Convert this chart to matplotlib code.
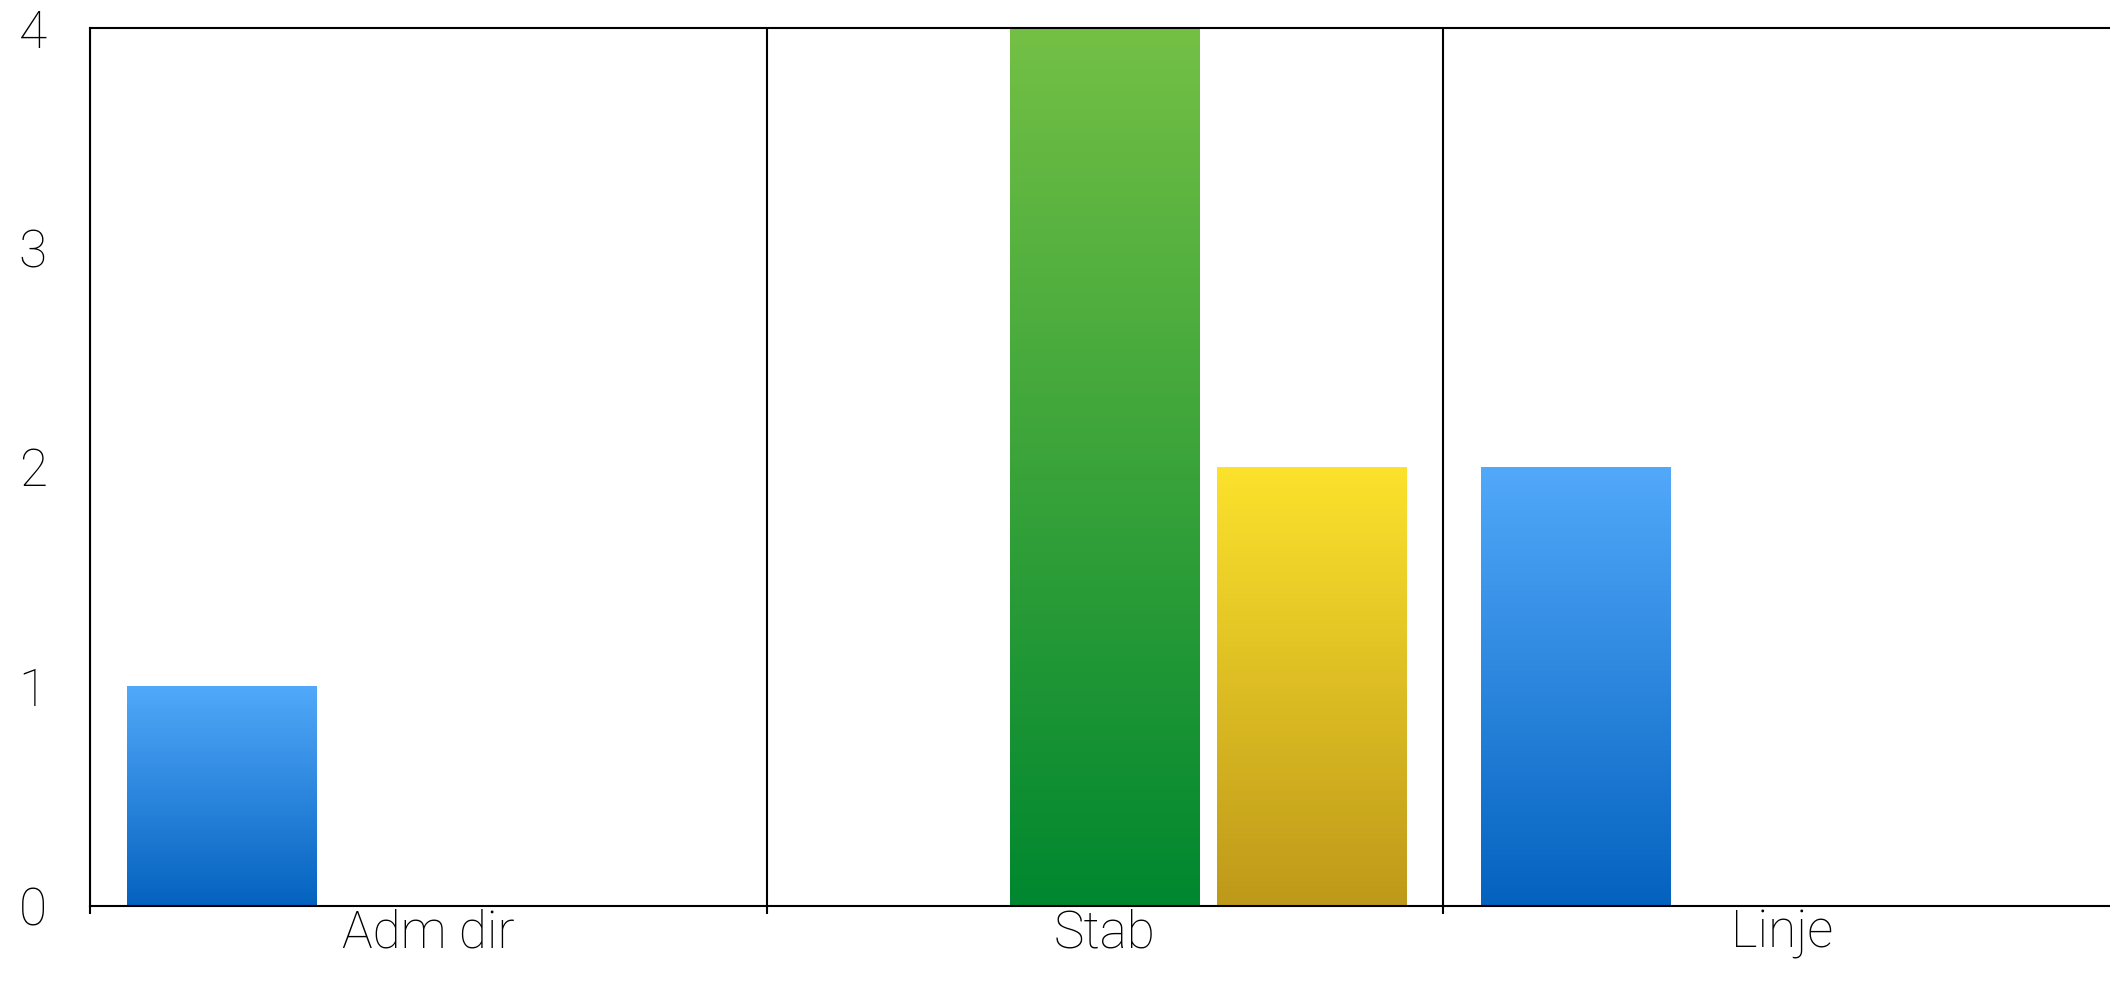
import numpy as np
import matplotlib
matplotlib.use("Agg")
import matplotlib.pyplot as plt
from matplotlib.colors import LinearSegmentedColormap

# data
categories = ["Adm dir", "Stab", "Linje"]
blue_values = [1, 0, 2]
green_values = [0, 4, 0]
yellow_values = [0, 2, 0]
y_ticks = [0, 1, 2, 3, 4]

# (values, top colour, bottom colour, offset in category)
series = [
    (blue_values, "#52a9fa", "#0462bf", -0.305),
    (green_values, "#74c045", "#00872f", 0.0),
    (yellow_values, "#fce22c", "#be991a", 0.305),
]

plt.rcParams['font.family'] = ['Roboto', 'DejaVu Sans']

fig = plt.figure(figsize=(21.10, 9.98), dpi=100)
ax = fig.add_axes([90 / 2110, 92 / 998, 2030 / 2110, 878 / 998])

x = np.arange(len(categories))
bar_width = 0.28
grad = np.linspace(0, 1, 256).reshape(-1, 1)

for values, top_col, bottom_col, offset in series:
    cmap = LinearSegmentedColormap.from_list("g", [bottom_col, top_col])
    bars = ax.bar(x + offset, values, bar_width, color="none", linewidth=0, zorder=2)
    for b in bars:
        h = b.get_height()
        if h <= 0:
            continue
        x0, w = b.get_x(), b.get_width()
        # light at the top, dark at the bottom of every bar
        ax.imshow(grad, cmap=cmap, aspect="auto", origin="lower",
                  extent=(x0, x0 + w, 0, h), vmin=0, vmax=1, zorder=2)

ax.set_xlim(-0.5, len(categories) - 0.5)
ax.set_ylim(0, 4)

# vertical separators between categories
for b in np.arange(-0.5, len(categories) - 0.5 + 0.01, 1.0):
    ax.axvline(b, color="black", linewidth=1.5, zorder=3)

ax.set_xticks(np.arange(-0.5, len(categories) - 0.5, 1.0))
ax.set_xticklabels([])
ax.set_xticks(x, minor=True)
ax.set_xticklabels(categories, minor=True, fontsize=37, fontweight="light", color="black")
ax.tick_params(axis="x", which="major", direction="out", length=6, width=1.5, color="black")
ax.tick_params(axis="x", which="minor", length=0, pad=2)

ax.set_yticks(y_ticks)
ax.set_yticklabels([str(v) for v in y_ticks], fontsize=37, fontweight="light", color="black")
ax.tick_params(axis="y", length=0, pad=31)

for side in ["top", "left", "bottom"]:
    ax.spines[side].set_linewidth(1.5)
    ax.spines[side].set_color("black")
ax.spines["right"].set_visible(False)

fig.savefig("out.png", dpi=100)
